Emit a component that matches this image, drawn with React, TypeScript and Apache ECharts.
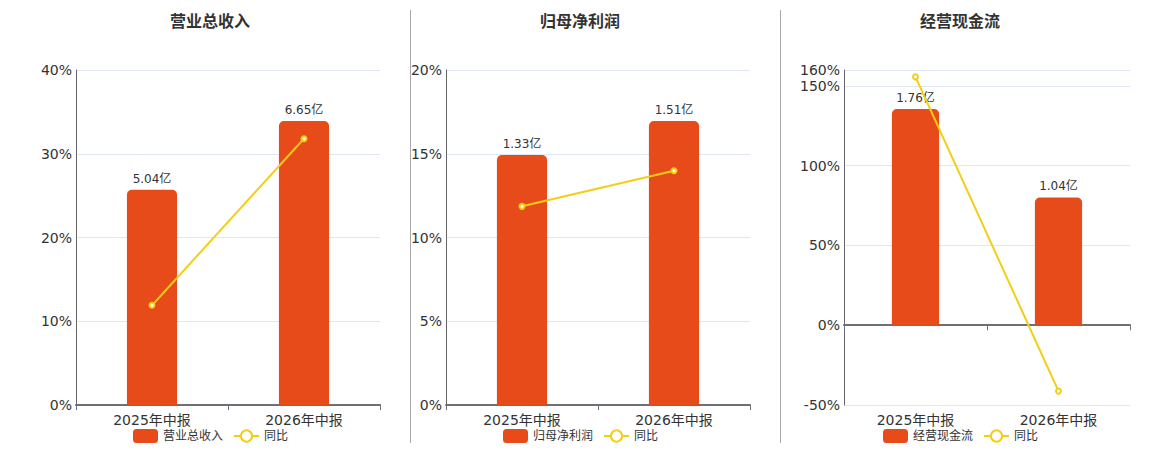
import React, { useEffect, useRef } from "react";
import * as echarts from "echarts";

const categories = ["2025年中报", "2026年中报"];
const panelTitles = ["营业总收入", "归母净利润", "经营现金流"];
const revenueValues = [5.04, 6.65];
const revenueYoY = [11.9, 31.8];
const profitValues = [1.33, 1.51];
const profitYoY = [11.86, 13.99];
const cashflowValues = [1.76, 1.04];
const cashflowYoY = [155.7, -41.3];
const pctAxisMin = [0, 0, -50];
const pctAxisMax = [40, 20, 160];
const pctAxisInterval = [10, 5, 50];
const yoyName = "同比";

const BAR_COLOR = "#E84B1A";
const LINE_COLOR = "#F2CF16";
const TEXT_COLOR = "#333";
const FONT = "'DejaVu Sans', 'Noto Sans CJK SC', sans-serif";

const panelValues = [revenueValues, profitValues, cashflowValues];
const panelYoY = [revenueYoY, profitYoY, cashflowYoY];

// layout per panel
const gridLeft = [76, 446, 844];
const gridRight = [380, 750, 1130];
const panelCenter = [210, 580, 960];

function buildOption() {
  const grid: any[] = [];
  const xAxis: any[] = [];
  const yAxis: any[] = [];
  const series: any[] = [];
  const legend: any[] = [];
  const title: any[] = [];

  for (let i = 0; i < 3; i++) {
    grid.push({
      left: gridLeft[i],
      width: gridRight[i] - gridLeft[i],
      top: 70,
      height: 335,
      containLabel: false,
    });
    title.push({
      text: panelTitles[i],
      left: panelCenter[i],
      top: 13,
      padding: 0,
      textAlign: "center",
      textStyle: { fontSize: 16, fontWeight: "bold", color: TEXT_COLOR, fontFamily: FONT },
    });
    // label axis (bottom)
    xAxis.push({
      type: "category",
      gridIndex: i,
      data: categories,
      position: "bottom",
      axisLine: { show: false, onZero: false },
      axisTick: { show: false },
      axisLabel: { fontSize: 14, color: TEXT_COLOR, margin: 8, fontFamily: FONT },
    });
    // line axis (on zero)
    xAxis.push({
      type: "category",
      gridIndex: i,
      data: categories,
      position: "bottom",
      axisLine: {
        show: true,
        onZero: true,
        onZeroAxisIndex: 2 * i,
        lineStyle: { color: "#6E7079", width: 2 },
      },
      axisTick: { show: true, length: 5, lineStyle: { color: "#6E7079", width: 1 } },
      axisLabel: { show: false },
      splitLine: { show: false },
    });
    const mn = pctAxisMin[i];
    const mx = pctAxisMax[i];
    yAxis.push({
      type: "value",
      gridIndex: i,
      min: mn,
      max: mx,
      interval: pctAxisInterval[i],
      axisLine: { show: true, lineStyle: { color: "#666", width: 1 } },
      axisTick: { show: false },
      axisLabel: {
        fontSize: 14,
        color: TEXT_COLOR,
        margin: 4,
        formatter: "{value}%",
        fontFamily: FONT,
      },
      splitLine: { show: true, lineStyle: { color: "#E0E6F1" } },
    });
    const barMax = Math.max(...panelValues[i]) * 1.18;
    const barMin = (barMax * mn) / mx;
    yAxis.push({
      type: "value",
      gridIndex: i,
      show: false,
      min: barMin,
      max: barMax,
      splitLine: { show: false },
    });
    series.push({
      name: panelTitles[i],
      type: "bar",
      xAxisIndex: 2 * i,
      yAxisIndex: 2 * i + 1,
      data: panelValues[i],
      barWidth: "33%",
      itemStyle: { color: BAR_COLOR, borderRadius: [5, 5, 0, 0] },
      label: {
        show: true,
        position: "top",
        distance: 5,
        fontSize: 12,
        color: TEXT_COLOR,
        fontFamily: FONT,
        formatter: (p: any) => p.value.toFixed(2) + "亿",
      },
    });
    series.push({
      name: yoyName,
      type: "line",
      xAxisIndex: 2 * i,
      yAxisIndex: 2 * i,
      data: panelYoY[i],
      symbol: "emptyCircle",
      symbolSize: 5,
      z: 5,
      lineStyle: { color: LINE_COLOR, width: 2 },
      itemStyle: { color: LINE_COLOR, borderWidth: 1.5 },
    });
    legend.push({
      data: [panelTitles[i], yoyName],
      left: panelCenter[i] - 77,
      top: 429,
      itemWidth: 25,
      itemHeight: 14,
      itemGap: 10,
      padding: 0,
      textStyle: { fontSize: 12, color: TEXT_COLOR, fontFamily: FONT },
    });
  }

  return {
    animation: false,
    textStyle: { fontFamily: FONT },
    title,
    legend,
    grid,
    xAxis,
    yAxis,
    series,
    graphic: [
      {
        type: "line",
        shape: { x1: 410.5, y1: 10, x2: 410.5, y2: 443 },
        style: { stroke: "#AAAAAA", lineWidth: 1 },
      },
      {
        type: "line",
        shape: { x1: 780.5, y1: 10, x2: 780.5, y2: 443 },
        style: { stroke: "#AAAAAA", lineWidth: 1 },
      },
    ],
  };
}

export default function App() {
  const ref = useRef<HTMLDivElement>(null);
  useEffect(() => {
    if (!ref.current) return;
    const chart = echarts.init(ref.current, undefined, { renderer: "svg" });
    chart.setOption(buildOption() as any);
    return () => chart.dispose();
  }, []);
  return (
    <div
      ref={ref}
      style={{ position: "absolute", left: 0, top: 0, width: 1160, height: 450 }}
    />
  );
}
